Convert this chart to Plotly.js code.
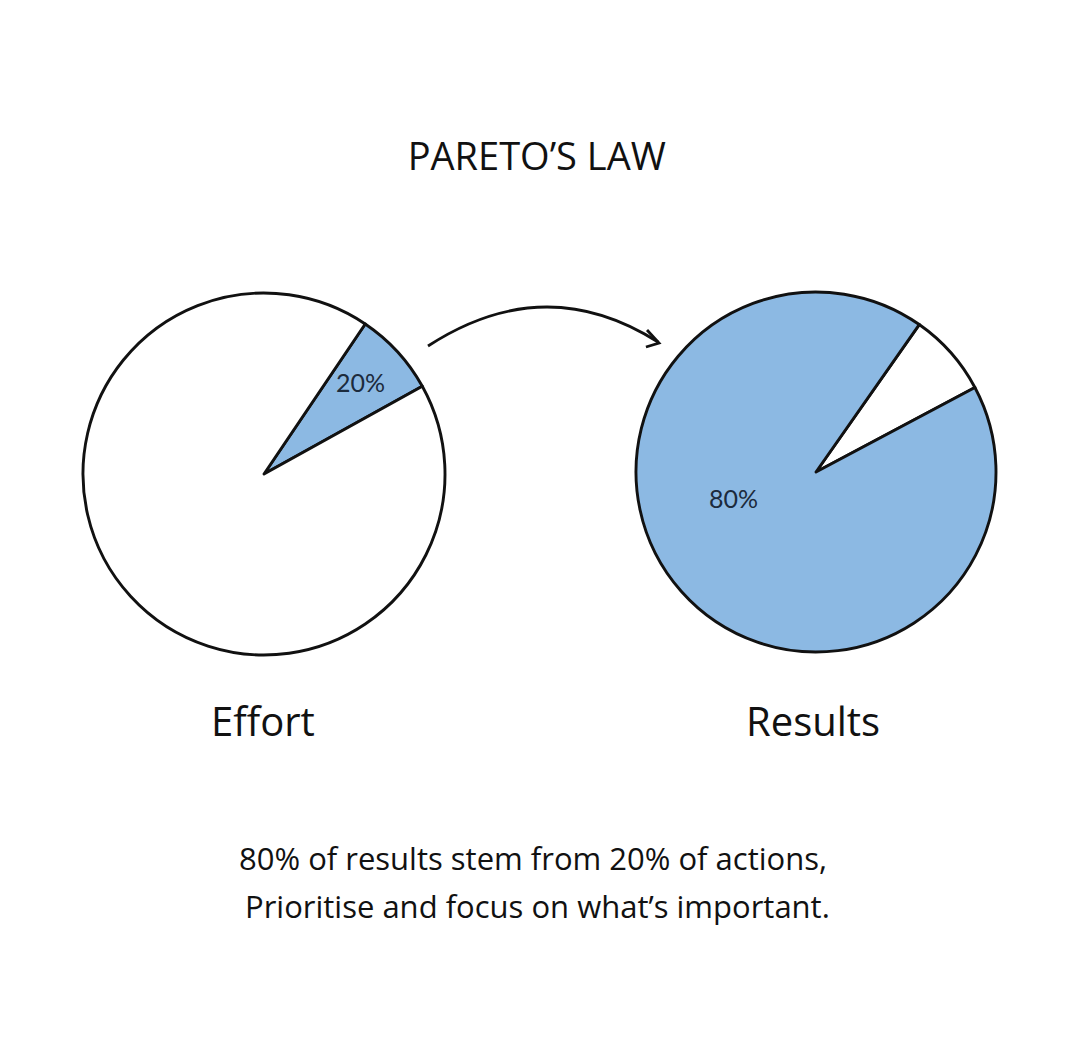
<!DOCTYPE html>
<html>
<head>
<meta charset="utf-8">
<script src="https://cdn.plot.ly/plotly-3.0.1.min.js"></script>
<style>html,body{margin:0;padding:0;background:#fff;}#chart{width:1080px;height:1039px;}</style>
</head>
<body>
<div id="chart"></div>
<script>
// Data
const sliceNames = ['Focus', 'Rest'];
const effortValues = [7.5, 92.5];
const resultsValues = [7.5, 92.5];
const effortColors = ['#8cb9e3', '#ffffff'];
const resultsColors = ['#ffffff', '#8cb9e3'];
const pieTitles = ['Effort', 'Results'];
const sliceLabels = ['20%', '80%'];
const chartTitle = 'PARETO’S LAW';
const captionLines = ['80% of results stem from 20% of actions,', 'Prioritise and focus on what’s important.'];

const W = 1080, H = 1039;
const px = x => x / W;
const py = y => 1 - y / H;
const hand = '"Open Sans", "Noto Sans", sans-serif';
const line = {color: '#111111', width: 2.9};

const traces = [
  {
    type: 'pie', values: effortValues, labels: sliceNames, sort: false,
    direction: 'clockwise', rotation: 34,
    marker: {colors: effortColors, line: line},
    textinfo: 'none', hoverinfo: 'none', showlegend: false,
    domain: {x: [px(83), px(445)], y: [py(655), py(293)]}
  },
  {
    type: 'pie', values: resultsValues, labels: sliceNames, sort: false,
    direction: 'clockwise', rotation: 35,
    marker: {colors: resultsColors, line: line},
    textinfo: 'none', hoverinfo: 'none', showlegend: false,
    domain: {x: [px(636), px(996)], y: [py(652), py(292)]}
  }
];

function P(x, y) { return px(x).toFixed(4) + ',' + py(y).toFixed(4); }

const layout = {
  width: W, height: H,
  margin: {l: 0, r: 0, t: 0, b: 0},
  paper_bgcolor: '#ffffff',
  showlegend: false,
  title: {text: chartTitle, x: 0.497, xanchor: 'center', y: py(157), yanchor: 'middle',
          font: {family: hand, size: 38, color: '#111'}},
  annotations: [
    {text: pieTitles[0], x: px(263), y: py(720), xref: 'paper', yref: 'paper', showarrow: false,
     font: {family: hand, size: 40, color: '#111'}, xanchor: 'center', yanchor: 'middle'},
    {text: pieTitles[1], x: px(813), y: py(720), xref: 'paper', yref: 'paper', showarrow: false,
     font: {family: hand, size: 40, color: '#111'}, xanchor: 'center', yanchor: 'middle'},
    {text: sliceLabels[0], x: px(360), y: py(382), xref: 'paper', yref: 'paper', showarrow: false,
     font: {family: 'Lato, "Open Sans", sans-serif', size: 25, color: '#1c2b3d'}, xanchor: 'center', yanchor: 'middle'},
    {text: sliceLabels[1], x: px(733), y: py(498), xref: 'paper', yref: 'paper', showarrow: false,
     font: {family: 'Lato, "Open Sans", sans-serif', size: 25, color: '#1c2b3d'}, xanchor: 'center', yanchor: 'middle'},
    {text: captionLines[0], x: px(533), y: py(858), xref: 'paper', yref: 'paper', showarrow: false,
     font: {family: hand, size: 31, color: '#111'}, xanchor: 'center', yanchor: 'middle'},
    {text: captionLines[1], x: px(537), y: py(906), xref: 'paper', yref: 'paper', showarrow: false,
     font: {family: hand, size: 31, color: '#111'}, xanchor: 'center', yanchor: 'middle'}
  ],
  shapes: [
    {type: 'path', xref: 'paper', yref: 'paper',
     path: 'M' + P(428, 346) + ' Q' + P(545, 270) + ' ' + P(658, 342),
     line: {color: '#111', width: 2.8}},
    {type: 'path', xref: 'paper', yref: 'paper',
     path: 'M' + P(647, 330) + ' L' + P(659, 343) + ' L' + P(646, 347),
     line: {color: '#111', width: 2.8}}
  ]
};

Plotly.newPlot('chart', traces, layout, {displayModeBar: false, staticPlot: true});
</script>
</body>
</html>
